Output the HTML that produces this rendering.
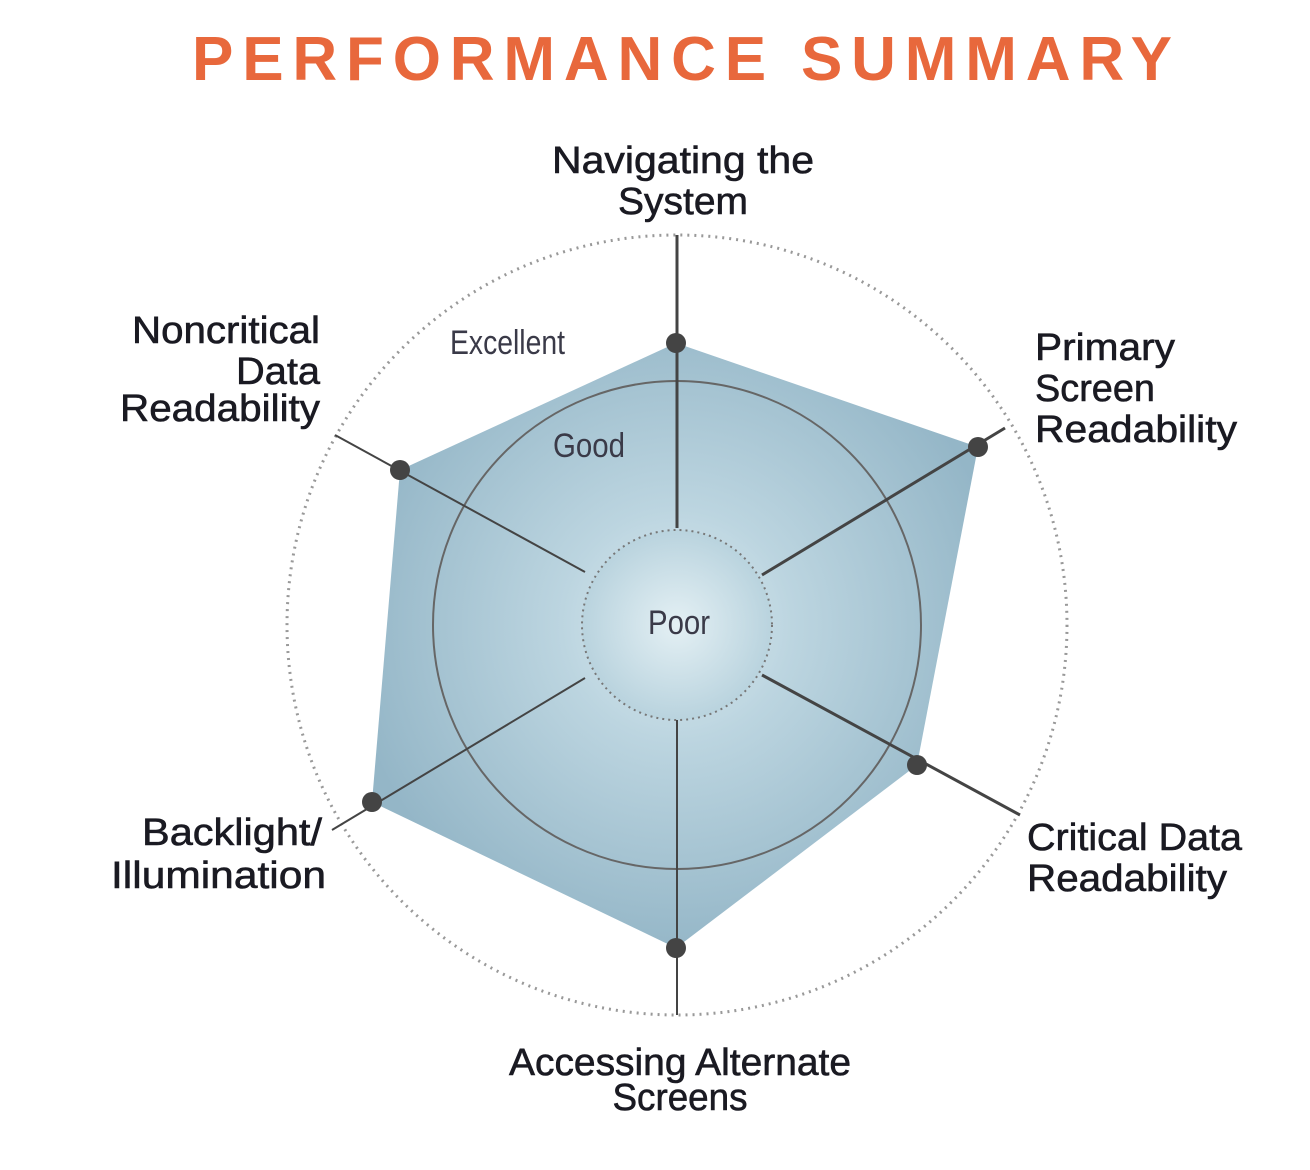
<!DOCTYPE html>
<html><head><meta charset="utf-8"><style>
html,body{margin:0;padding:0;background:#fff;width:1310px;height:1170px;overflow:hidden}
</style></head><body>
<svg width="1310" height="1170" viewBox="0 0 1310 1170" xmlns="http://www.w3.org/2000/svg">
<defs>
<radialGradient id="g" cx="677" cy="625" r="330" gradientUnits="userSpaceOnUse">
<stop offset="0" stop-color="#dcebf1"/>
<stop offset="0.35" stop-color="#bcd5e0"/>
<stop offset="1" stop-color="#94b6c7"/>
</radialGradient>
<radialGradient id="g2" cx="677" cy="625" r="95" gradientUnits="userSpaceOnUse">
<stop offset="0" stop-color="#e4f0f4"/>
<stop offset="1" stop-color="#b9d3de"/>
</radialGradient>
</defs>
<text x="192" y="80" font-family="Liberation Sans, sans-serif" font-weight="bold" font-size="62" textLength="980" lengthAdjust="spacing" fill="#e8683c">PERFORMANCE SUMMARY</text>
<circle cx="677" cy="625" r="390" fill="none" stroke="#999" stroke-width="3" stroke-dasharray="2 5"/>
<polygon points="676,343 978,447 917,765 676,948 372,802 400,470" fill="url(#g)"/>
<circle cx="677" cy="625" r="95" fill="url(#g2)" stroke="#777" stroke-width="2" stroke-dasharray="2 4"/>
<circle cx="677" cy="625" r="244" fill="none" stroke="#666" stroke-width="2"/>
<g stroke="#444" stroke-width="3">
<line x1="677" y1="235" x2="677" y2="528"/>
<line x1="762" y1="575" x2="1005" y2="428"/>
<line x1="762" y1="675" x2="1020" y2="815"/>
<line x1="677" y1="720" x2="677" y2="1015" stroke-width="2"/>
<line x1="585" y1="678" x2="332" y2="830" stroke-width="2"/>
<line x1="585" y1="572" x2="335" y2="435" stroke-width="2"/>
</g>
<g fill="#444">
<circle cx="676" cy="343" r="10"/><circle cx="978" cy="447" r="10"/><circle cx="917" cy="765" r="10"/>
<circle cx="676" cy="948" r="10"/><circle cx="372" cy="802" r="10"/><circle cx="400" cy="470" r="10"/>
</g>
<g font-family="Liberation Sans Narrow, Liberation Sans, sans-serif" font-size="38" fill="#1a1a22" stroke="#1a1a22" stroke-width="0.6">
<text x="683" y="173" text-anchor="middle" textLength="262" lengthAdjust="spacingAndGlyphs">Navigating the</text>
<text x="683" y="214" text-anchor="middle" textLength="130" lengthAdjust="spacingAndGlyphs">System</text>
<text x="1035" y="360" textLength="140" lengthAdjust="spacingAndGlyphs">Primary</text>
<text x="1035" y="401" textLength="120" lengthAdjust="spacingAndGlyphs">Screen</text>
<text x="1035" y="442" textLength="202" lengthAdjust="spacingAndGlyphs">Readability</text>
<text x="1027" y="850" textLength="215" lengthAdjust="spacingAndGlyphs">Critical Data</text>
<text x="1027" y="891" textLength="200" lengthAdjust="spacingAndGlyphs">Readability</text>
<text x="680" y="1075" text-anchor="middle" textLength="342" lengthAdjust="spacingAndGlyphs">Accessing Alternate</text>
<text x="680" y="1110" text-anchor="middle" textLength="135" lengthAdjust="spacingAndGlyphs">Screens</text>
<text x="322" y="845" text-anchor="end" textLength="180" lengthAdjust="spacingAndGlyphs">Backlight/</text>
<text x="326" y="888" text-anchor="end" textLength="215" lengthAdjust="spacingAndGlyphs">Illumination</text>
<text x="320" y="343" text-anchor="end" textLength="188" lengthAdjust="spacingAndGlyphs">Noncritical</text>
<text x="320" y="384" text-anchor="end" textLength="84" lengthAdjust="spacingAndGlyphs">Data</text>
<text x="320" y="421" text-anchor="end" textLength="200" lengthAdjust="spacingAndGlyphs">Readability</text>
</g>
<g font-family="Liberation Sans Narrow, Liberation Sans, sans-serif" font-size="34" fill="#3a3a48">
<text x="450" y="354" textLength="115" lengthAdjust="spacingAndGlyphs">Excellent</text>
<text x="553" y="457" textLength="72" lengthAdjust="spacingAndGlyphs">Good</text>
<text x="648" y="634" textLength="62" lengthAdjust="spacingAndGlyphs">Poor</text>
</g>
</svg>
</body></html>
